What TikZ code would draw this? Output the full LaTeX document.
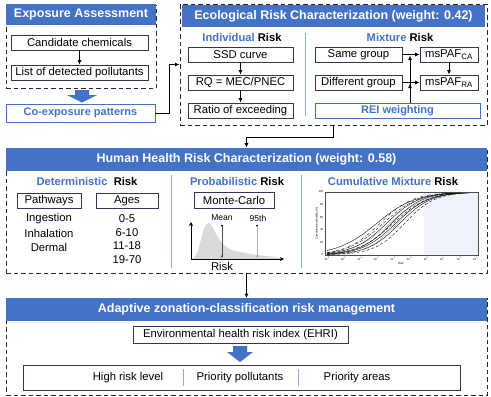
\documentclass[tikz,border=0pt]{standalone}
\usepackage{fontspec}
\setmainfont{Liberation Sans}
\usetikzlibrary{arrows.meta,calc}
\definecolor{hblue}{HTML}{4472C4}
\definecolor{dvblue}{HTML}{8FAADC}
\definecolor{bdr}{HTML}{2E3A4F}
\definecolor{plotbg}{HTML}{EEF3FA}
\begin{document}
\begin{tikzpicture}[x=1pt,y=-1pt,
  dbox/.style={draw=black!85, line width=0.9pt, dash pattern=on 4.5pt off 3pt, fill=white, inner sep=0pt},
  hdr/.style={fill=hblue, text=white, inner sep=0pt, font=\bfseries\fontsize{12.5}{14}\selectfont},
  box/.style={draw=bdr, line width=0.8pt, fill=white, inner sep=0pt, font=\fontsize{11.3}{13}\selectfont},
  bbox/.style={draw=hblue, line width=0.8pt, fill=white, text=hblue, inner sep=0pt, font=\bfseries\fontsize{11}{13}\selectfont},
  ttl/.style={inner sep=0pt, font=\bfseries\fontsize{11.2}{13}\selectfont},
  txt/.style={inner sep=0pt, font=\fontsize{11.3}{13}\selectfont},
  small/.style={inner sep=0pt, font=\fontsize{8.5}{10}\selectfont},
  tick/.style={inner sep=0pt, font=\fontsize{2.8}{3}\selectfont},
  conn/.style={draw=black, line width=0.9pt, -{Latex[length=4.5pt,width=4pt]}},
  divl/.style={draw=dvblue, line width=1pt},
  sz/.style 2 args={minimum width=#1, minimum height=#2}
]
\fill[white] (0,0) rectangle (491,397);
\useasboundingbox (0,0) rectangle (491,397);

% ---------- Exposure assessment ----------
\node[dbox, sz={150pt}{83pt}] (exp) at (81,46.5) {};
\node[hdr, sz={150pt}{21pt}] (exph) at (81,14.5) {Exposure Assessment};
\node[box, sz={137pt}{15pt}] (cand) at (79.5,42.5) {Candidate chemicals};
\node[box, sz={137pt}{15pt}] (list) at (79.5,72.5) {List of detected pollutants};
\draw[conn] (cand) -- (list);
\fill[hblue] (75,90) -- (89,90) -- (89,95) -- (97,95) -- (82,102.5) -- (67,95) -- (75,95) -- cycle;
\node[bbox, sz={149pt}{18pt}] (coexp) at (80.5,113) {Co-exposure patterns};

% ---------- Ecological ----------
\node[dbox, sz={307pt}{121pt}] (eco) at (333.5,64.5) {};
\node[hdr, sz={303pt}{22pt}] (ecoh) at (333.5,16) {Ecological Risk Characterization (weight: 0.42)};
\draw[conn] (coexp.east) -- ++(14.5,0) |- (eco.west);

\node[ttl] (indt) at (242,37) {\textcolor{hblue}{Individual} Risk};
\draw[divl] (305,33) -- (305,116);
\node[box, sz={105pt}{15pt}] (ssd) at (240.5,54.5) {SSD curve};
\node[box, sz={105pt}{15pt}] (rq) at (240.5,82.5) {RQ = MEC/PNEC};
\node[box, sz={105pt}{15pt}] (ratio) at (240.5,110.5) {Ratio of exceeding};
\draw[conn] (ssd) -- (rq);
\draw[conn] (rq) -- (ratio);

\node[ttl] (mixt) at (400,37) {\textcolor{hblue}{Mixture} Risk};
\node[box, sz={87pt}{15pt}] (same) at (358.5,54.5) {Same group};
\node[box, sz={87pt}{15pt}] (diff) at (358.5,82.5) {Different group};
\node[box, sz={58pt}{15pt}] (ca) at (449,54.5) {msPAF\textsubscript{CA}};
\node[box, sz={58pt}{15pt}] (ra) at (449,82.5) {msPAF\textsubscript{RA}};
\node[bbox, sz={165pt}{15pt}] (rei) at (397.5,110.5) {REI weighting};
\draw[conn] (same) -- (ca);
\draw[conn] (diff) -- (ra);
\draw[conn] (ca) -- (ra);
\coordinate (jx) at (410,0);
\draw[conn] (rei.north -| jx) -- ($(same.east -| jx)+(0,1)$);
\draw[conn] (rei.north -| jx) -- ($(diff.east -| jx)+(0,1)$);

% ---------- Human health ----------
\node[dbox, sz={481pt}{125pt}] (hh) at (246.5,210.5) {};
\node[hdr, sz={481pt}{23pt}] (hhh) at (246.5,159.5) {Human Health Risk Characterization (weight: 0.58)};
\draw[conn] (eco.south) -- ++(0,12) -| (hh.north);

\node[ttl] (dett) at (87,181) {\textcolor{hblue}{Deterministic}\ \ Risk};
\node[box, sz={64pt}{15pt}] (path) at (49,200.5) {Pathways};
\node[box, sz={62pt}{15pt}] (ages) at (127,200.5) {Ages};
\node[txt] (ing) at (49,219) {Ingestion};
\node[txt] (inh) at (49,233) {Inhalation};
\node[txt] (der) at (49,247) {Dermal};
\node[txt] (a1) at (127,219) {0-5};
\node[txt] (a2) at (127,232.5) {6-10};
\node[txt] (a3) at (127,246) {11-18};
\node[txt] (a4) at (127,259.5) {19-70};
\draw[divl] (171,175) -- (171,268);

\node[ttl] (probt) at (237,181) {\textcolor{hblue}{Probabilistic} Risk};
\node[box, sz={80pt}{16pt}] (mc) at (234,200) {Monte-Carlo};
\fill[gray!30] (192,259) .. controls (200,258) and (202,223) .. (208,223)
  .. controls (214,223) and (216,244) .. (232,250)
  .. controls (250,255) and (268,256) .. (281,258) -- (281,259) -- cycle;
\draw[line width=0.8pt, {Stealth[length=4pt,width=4pt]}-{Stealth[length=4pt,width=4pt]}] (191,222) -- (191,259) -- (284,259);
\node[small] (mean) at (222,218) {Mean};
\node[small] (p95) at (258,218) {95th};
\draw[gray!60!black, line width=0.6pt, -{Latex[length=3pt,width=2.5pt]}] (222,225.5) -- (222,258.5);
\draw[gray!60, line width=0.6pt, -{Latex[length=3pt,width=2.5pt]}] (257,225.5) -- (257,258.5);
\fill (222,225.5) circle (1pt);
\fill (257,225.5) circle (1pt);
\node[txt] (riskp) at (222,266) {Risk};
\draw[divl] (301,175) -- (301,268);

\node[ttl] (cumt) at (393,181) {\textcolor{hblue}{Cumulative Mixture} Risk};
\fill[white] (325,192) rectangle (424,255);
\fill[plotbg] (424,192) rectangle (478,255);
\begin{scope}
\clip (325,192) rectangle (478,255);
\foreach \c/\k/\s in {-3.0/0.85/solid, -2.6/0.95/densely dashed, -2.4/1.0/solid, -2.2/0.9/densely dotted,
  -2.1/1.05/solid, -2.0/0.95/densely dashed, -1.85/1.0/solid, -1.75/1.1/densely dotted,
  -1.6/1.05/solid, -1.3/1.1/densely dashed, -2.8/1.0/dash dot}
  \draw[line width=0.35pt, \s] plot[domain=-6:3, samples=45] ({327+(\x+6)*16.5},{255-63/(1+exp(-\k*(\x-\c)))});
\end{scope}
\draw[gray!60!black, line width=0.4pt] (325,192) rectangle (478,255);
\foreach \d in {-6,-5,...,3}
  \node[tick] at ({327+(\d+6)*16.5},258.5) {10\textsuperscript{\d}};
\foreach \v in {0,20,...,100}
  \node[tick, anchor=east] at (323.5,{255-0.63*\v}) {\v};
\node[tick, rotate=90] (ylab) at (317,223.5) {Cumulative probability (\%)};
\node[tick] (xlab) at (401,263.5) {Risk};

% ---------- Adaptive management ----------
\node[dbox, sz={481pt}{97pt}] (ad) at (246.5,347) {};
\node[hdr, sz={481pt}{23pt}] (adh) at (246.5,309.5) {Adaptive zonation-classification risk management};
\draw[conn] (hh.south) -- (ad.north);
\node[box, sz={215pt}{17pt}] (ehri) at (240.5,334.5) {Environmental health risk index (EHRI)};
\fill[hblue] (233,346) -- (247,346) -- (247,352) -- (253,352) -- (240,362) -- (227,352) -- (233,352) -- cycle;
\node[box, sz={437pt}{25pt}] (out) at (241.5,377.5) {};
\draw[divl] (183,369) -- (183,386);
\draw[divl] (298,369) -- (298,386);
\node[txt] (o1) at (128,378) {High risk level};
\node[txt] (o2) at (240,378) {Priority pollutants};
\node[txt] (o3) at (357,378) {Priority areas};
\end{tikzpicture}
\end{document}
